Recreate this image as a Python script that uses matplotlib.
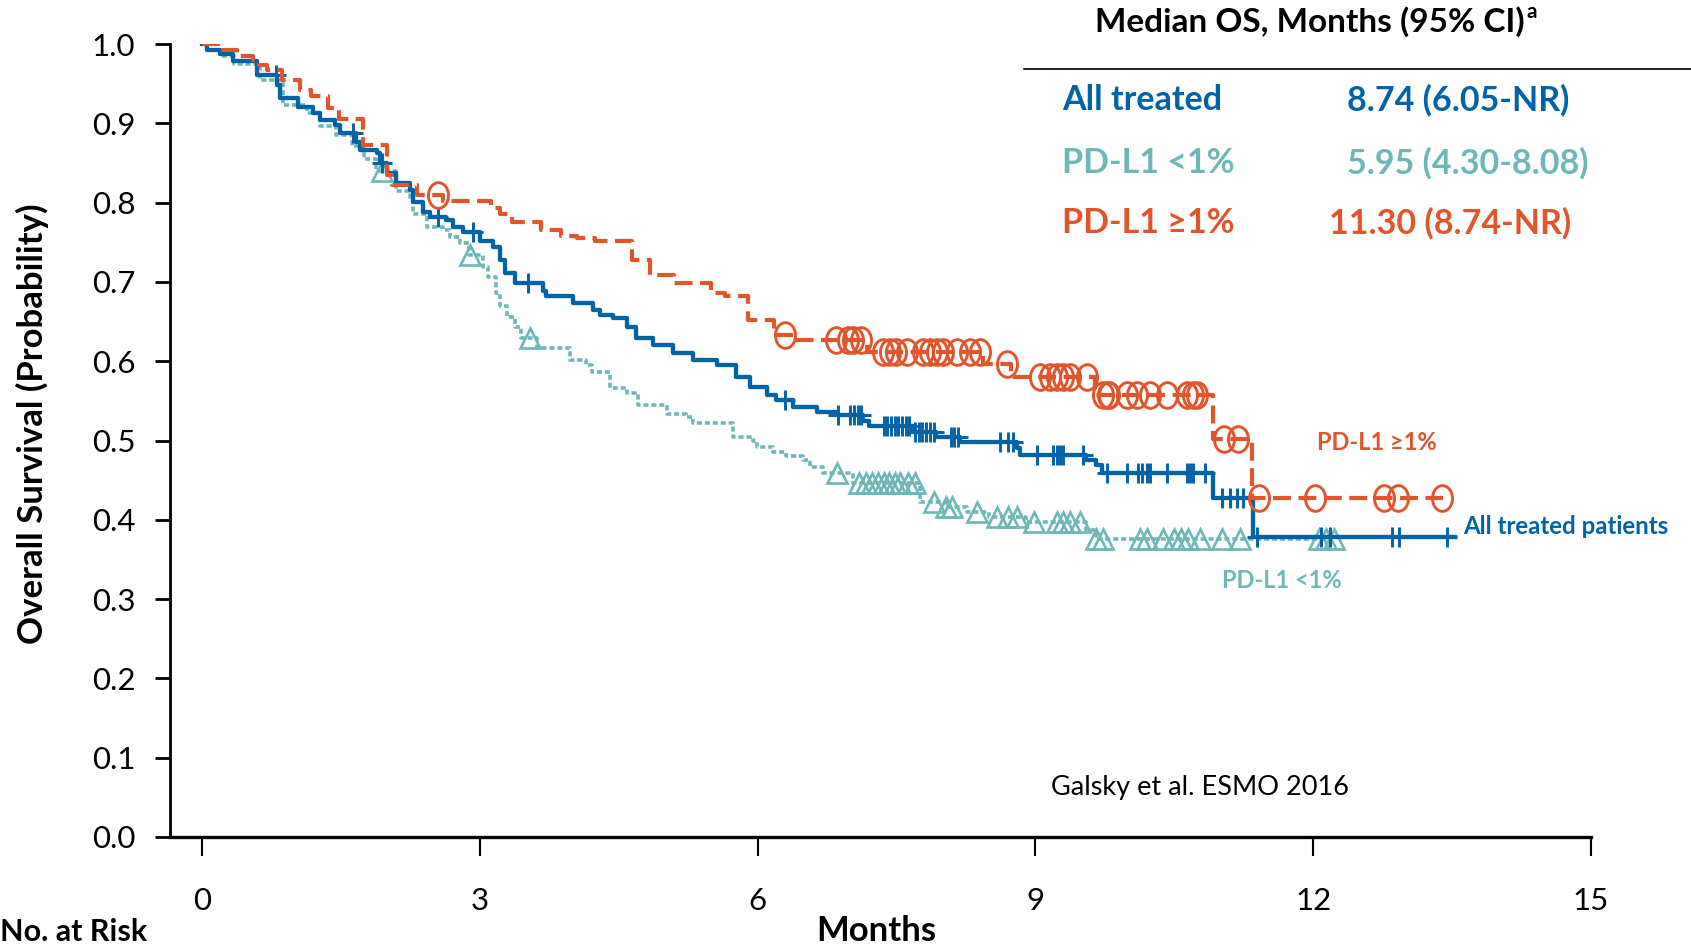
import numpy as np
import matplotlib
matplotlib.use("Agg")
import matplotlib.pyplot as plt
from matplotlib.path import Path
from matplotlib.transforms import Affine2D

plt.rcParams['font.family'] = ['Lato', 'DejaVu Sans']

BLUE = '#0062A7'
TEAL = '#6DB7B9'
ORANGE = '#E1542C'

# ---------------- data ----------------
# All treated patients (Kaplan-Meier steps)
all_t = [0, 0.05, 0.19, 0.33, 0.59, 0.81, 0.84, 1.04, 1.20, 1.27, 1.44, 1.49, 1.66, 1.71, 1.89,
         1.92, 2.00, 2.10, 2.25, 2.28, 2.39, 2.46, 2.64, 2.71, 2.82, 3.00, 3.14, 3.22, 3.27, 3.38,
         3.68, 3.72, 4.01, 4.22, 4.30, 4.44, 4.59, 4.69, 4.87, 5.09, 5.30, 5.56, 5.77, 5.92, 6.10,
         6.20, 6.38, 6.64, 6.86, 7.14, 7.20, 7.68, 7.93, 8.19, 8.80, 8.83, 9.55, 9.66, 9.72, 10.92,
         11.35]
all_s = [1.0, 0.993, 0.988, 0.978, 0.961, 0.948, 0.932, 0.921, 0.913, 0.904, 0.898, 0.888, 0.877,
         0.866, 0.862, 0.850, 0.837, 0.825, 0.816, 0.801, 0.788, 0.782, 0.778, 0.769, 0.763, 0.752,
         0.744, 0.728, 0.711, 0.699, 0.688, 0.682, 0.673, 0.665, 0.658, 0.654, 0.643, 0.629, 0.620,
         0.610, 0.601, 0.595, 0.580, 0.568, 0.557, 0.551, 0.542, 0.536, 0.532, 0.524, 0.518, 0.511,
         0.504, 0.498, 0.490, 0.482, 0.475, 0.469, 0.459, 0.427, 0.378]
all_end = 13.53
all_cens = [0.80, 1.63, 1.94, 2.55, 2.93, 3.52, 6.30, 6.87, 7.00, 7.04, 7.08, 7.12, 7.36, 7.40,
            7.44, 7.48, 7.52, 7.56, 7.60, 7.64, 7.70, 7.74, 7.78, 7.82, 7.86, 7.90, 8.09, 8.12,
            8.16, 8.62, 8.70, 8.76, 9.02, 9.19, 9.23, 9.27, 9.30, 9.51, 9.77, 9.99, 10.11, 10.15,
            10.20, 10.24, 10.42, 10.64, 10.67, 10.70, 10.83, 11.01, 11.10, 11.18, 11.24, 11.39,
            12.08, 12.18, 12.85, 12.93, 13.45]

# PD-L1 >= 1%
hi_t = [0, 0.17, 0.38, 0.55, 0.62, 0.70, 0.86, 1.06, 1.18, 1.36, 1.48, 1.74, 2.00, 2.05, 2.32,
        2.60, 3.12, 3.22, 3.35, 3.66, 3.88, 4.05, 4.24, 4.64, 4.84, 5.10, 5.50, 5.65, 5.90, 6.18,
        6.40, 7.18, 8.43, 8.74, 9.64, 10.92, 11.34]
hi_s = [1.0, 0.992, 0.985, 0.980, 0.974, 0.967, 0.954, 0.942, 0.934, 0.919, 0.905, 0.873, 0.835,
        0.822, 0.810, 0.802, 0.793, 0.785, 0.775, 0.765, 0.758, 0.755, 0.751, 0.728, 0.709, 0.699,
        0.686, 0.682, 0.652, 0.633, 0.627, 0.611, 0.597, 0.580, 0.557, 0.502, 0.428]
hi_end = 13.40
hi_cens = [2.55, 6.30, 6.85, 6.98, 7.03, 7.12, 7.35, 7.43, 7.50, 7.61, 7.79, 7.86, 7.94, 8.00,
           8.15, 8.29, 8.40, 8.69, 9.05, 9.16, 9.23, 9.30, 9.37, 9.56, 9.73, 9.78, 9.80, 9.99,
           10.10, 10.24, 10.42, 10.64, 10.70, 10.74, 11.04, 11.19, 11.41, 12.02, 12.77, 12.92, 13.39]

# PD-L1 < 1%
lo_t = [0, 0.05, 0.20, 0.35, 0.63, 0.88, 1.13, 1.27, 1.45, 1.62, 1.75, 1.88, 2.10, 2.25, 2.28,
        2.43, 2.60, 2.68, 2.79, 2.88, 3.04, 3.09, 3.18, 3.22, 3.29, 3.38, 3.45, 3.62, 3.97, 4.15,
        4.21, 4.41, 4.59, 4.71, 5.02, 5.23, 5.30, 5.74, 5.95, 5.99, 6.17, 6.31, 6.49, 6.57, 6.71,
        7.03, 7.75, 8.04, 8.26, 8.50, 8.90, 9.55, 9.66]
lo_s = [1.0, 0.993, 0.985, 0.975, 0.955, 0.923, 0.913, 0.896, 0.885, 0.872, 0.855, 0.840, 0.814,
        0.803, 0.786, 0.769, 0.765, 0.757, 0.749, 0.734, 0.719, 0.706, 0.686, 0.669, 0.656, 0.643,
        0.629, 0.617, 0.601, 0.595, 0.587, 0.566, 0.560, 0.545, 0.534, 0.530, 0.522, 0.505, 0.500,
        0.492, 0.486, 0.480, 0.475, 0.467, 0.459, 0.447, 0.423, 0.416, 0.410, 0.404, 0.397, 0.387,
        0.376]
lo_end = 12.22
lo_cens = [1.94, 2.89, 3.54, 6.86, 7.10, 7.17, 7.24, 7.30, 7.36, 7.42, 7.48, 7.54, 7.62, 7.70,
           7.90, 8.04, 8.10, 8.37, 8.59, 8.70, 8.80, 8.98, 9.23, 9.30, 9.37, 9.48, 9.66, 9.73,
           10.13, 10.20, 10.38, 10.50, 10.57, 10.65, 10.78, 11.02, 11.21, 12.06, 12.14, 12.22]

x_ticks = [0, 3, 6, 9, 12, 15]
y_ticks = [0.0, 0.1, 0.2, 0.3, 0.4, 0.5, 0.6, 0.7, 0.8, 0.9, 1.0]

table_groups = ['All treated', 'PD-L1 <1%', 'PD-L1 \u22651%']
table_values = ['8.74 (6.05-NR)', '5.95 (4.30-8.08)', '11.30 (8.74-NR)']


def km_xy(t, s, end):
    return list(t) + [end], list(s) + [s[-1]]


def cens_y(t, s, c):
    idx = np.searchsorted(np.asarray(t), np.asarray(c), side='right') - 1
    return np.asarray(s)[idx]


# ---------------- figure ----------------
W, H = 1691, 950
fig = plt.figure(figsize=(W / 100, H / 100), dpi=100)
ax = fig.add_axes([170 / W, 1 - 837 / H, (1591 - 170) / W, (837 - 44) / H])
ax.set_xlim(-0.345, 15)
ax.set_ylim(0, 1)

# PD-L1 <1%
x, y = km_xy(lo_t, lo_s, lo_end)
ax.step(x, y, where='post', color=TEAL, lw=2.6, dashes=(1.4, 0.8), zorder=2)
ax.plot(lo_cens, cens_y(lo_t, lo_s, lo_cens), ls='none', marker='^', ms=14,
        mfc='none', mec=TEAL, mew=1.9, zorder=3, clip_on=False)

# All treated
x, y = km_xy(all_t, all_s, all_end)
ax.step(x, y, where='post', color=BLUE, lw=3.1, zorder=4)
ax.plot(all_cens, cens_y(all_t, all_s, all_cens), ls='none', marker='+', ms=14.5,
        mec=BLUE, mew=2.1, zorder=5, clip_on=False)

# PD-L1 >=1%
ell = Affine2D().scale(0.78, 1.0).transform_path(Path.unit_circle())
x, y = km_xy(hi_t, hi_s, hi_end)
ax.step(x, y, where='post', color=ORANGE, lw=3.0, dashes=(4.3, 1.8), zorder=6)
ax.plot(hi_cens, cens_y(hi_t, hi_s, hi_cens), ls='none', marker=ell, ms=18.5,
        mfc='none', mec=ORANGE, mew=2.1, zorder=7, clip_on=False)

# axes styling
for sp in ['top', 'right']:
    ax.spines[sp].set_visible(False)
ax.spines['left'].set_linewidth(2.0)
ax.spines['bottom'].set_linewidth(2.4)
ax.set_xticks(x_ticks)
ax.set_xticklabels([str(v) for v in x_ticks])
ax.set_yticks(y_ticks)
ax.set_yticklabels([f'{v:.1f}' for v in y_ticks])
ax.tick_params(axis='y', direction='out', length=11, width=2.0, pad=14, labelsize=22.5)
ax.tick_params(axis='x', direction='out', length=14, width=1.5, pad=22, labelsize=22.5)

# axis titles
fig.text(32 / W, 1 - 424 / H, 'Overall Survival (Probability)', rotation=90,
         ha='center', va='center', fontsize=25, fontweight='bold')
fig.text(876 / W, 1 - 931 / H, 'Months', ha='center', va='center', fontsize=25,
         fontweight='bold')
fig.text(0 / W, 1 - 932 / H, 'No. at Risk', ha='left', va='center', fontsize=22,
         fontweight='bold')

# table
hdr = fig.text(1310 / W, 1 - 22 / H, 'Median OS, Months (95% CI)', ha='center',
               va='center', fontsize=24, fontweight='bold', color='black')
ax.annotate('a', xy=(1, 1), xycoords=hdr, xytext=(1, 3), textcoords='offset points',
            ha='left', va='top', fontsize=15, fontweight='bold')
fig.lines.append(plt.Line2D([1024 / W, 1.0], [1 - 69 / H, 1 - 69 / H],
                            transform=fig.transFigure, color='black', lw=1.2))
row_y = [100, 163, 223]
row_c = [BLUE, TEAL, ORANGE]
val_x = [1347, 1347, 1329]
for g, v, yy, c, vx in zip(table_groups, table_values, row_y, row_c, val_x):
    fig.text(1062 / W, 1 - yy / H, g, ha='left', va='center', fontsize=24.5,
             fontweight='bold', color=c)
    fig.text(vx / W, 1 - yy / H, v, ha='left', va='center', fontsize=24.5,
             fontweight='bold', color=c)

# curve labels
fig.text(1377 / W, 1 - 443 / H, 'PD-L1 \u22651%', ha='center', va='center',
         fontsize=17, fontweight='bold', color=ORANGE)
fig.text(1463 / W, 1 - 526 / H, 'All treated patients', ha='left', va='center',
         fontsize=17.3, fontweight='bold', color=BLUE)
fig.text(1282 / W, 1 - 580 / H, 'PD-L1 <1%', ha='center', va='center',
         fontsize=17, fontweight='bold', color=TEAL)
fig.text(1200 / W, 1 - 787 / H, 'Galsky et al. ESMO 2016', ha='center', va='center',
         fontsize=19.5, color='black')

fig.savefig('out.png', dpi=100)
